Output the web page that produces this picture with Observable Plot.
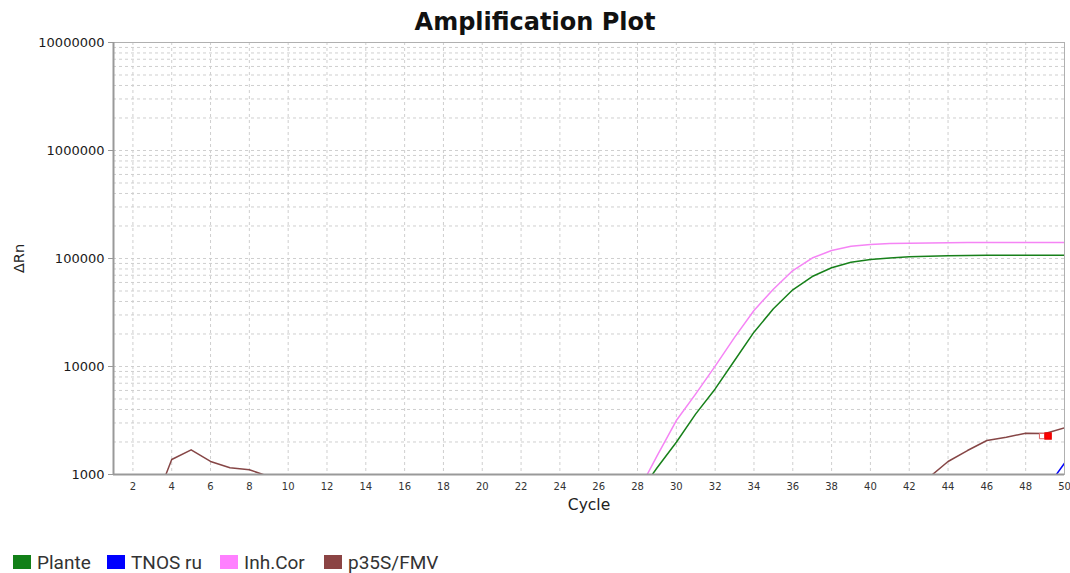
<!DOCTYPE html>
<html>
<head>
<meta charset="utf-8">
<script src="https://cdn.jsdelivr.net/npm/d3@7"></script>
<script src="https://cdn.jsdelivr.net/npm/@observablehq/plot@0.6"></script>
<style>
  html, body { margin: 0; padding: 0; background: #fff; }
  #wrap { width: 1070px; height: 573px; position: relative; overflow: hidden; font-family: "DejaVu Sans", sans-serif; }
  #title { height: 25px; padding-top: 9px; line-height: 26px; text-align: center; font-family: "DejaVu Sans", sans-serif; font-weight: bold; font-size: 24px; color: #111; white-space: nowrap; }
  #legend { display: flex; align-items: center; margin-top: 27px; padding-left: 13px; height: 22px; font-family: Roboto, "Noto Sans", sans-serif; font-size: 19px; color: #333; }
  .item { display: flex; align-items: center; flex: none; }
  .sw { width: 18px; height: 14px; margin-right: 6px; flex: none; }
  .lab { white-space: nowrap; display: inline-block; }
</style>
</head>
<body>
<div id="wrap">
  <div id="title">Amplification Plot</div>
  <div id="chart"></div>
  <div id="legend"></div>
</div>
<script>
// ---- data ----
const cycles = [1,2,3,4,5,6,7,8,9,10,11,12,13,14,15,16,17,18,19,20,21,22,23,24,25,26,27,28,29,30,31,32,33,34,35,36,37,38,39,40,41,42,43,44,45,46,47,48,49,50];

const plante = [100,100,100,100,100,100,100,100,100,100,100,100,100,100,100,100,100,100,100,100,100,100,100,100,110,130,200,637,
  1150,1990,3640,6200,11370,20800,34200,51300,68100,82000,92400,97800,101000,103600,105000,106000,106500,107000,107200,107300,107400,107400];

const tnos = [300,300,300,300,300,300,300,300,300,300,300,300,300,300,300,300,300,300,300,300,300,300,300,300,300,300,300,300,
  300,300,300,300,300,300,300,300,300,300,300,300,300,300,300,300,300,300,300,400,716,1273];

const inh = [100,100,100,100,100,100,100,100,100,100,100,100,100,100,100,100,100,100,100,100,100,100,100,100,110,140,250,676,
  1480,3160,5580,10070,18600,33000,52000,77400,101000,118600,130000,135000,137500,138700,139500,140000,140300,140600,140800,141000,140800,140600];

const p35s = [300,350,475,1376,1693,1320,1153,1105,960,700,600,550,500,500,500,500,500,500,500,500,500,500,500,500,500,500,500,500,
  500,500,500,500,500,500,500,500,500,500,500,500,550,600,933,1320,1667,2065,2215,2415,2400,2705];

const seriesNames = ["Plante", "TNOS ru", "Inh.Cor", "p35S/FMV"];
const seriesValues = [plante, tnos, inh, p35s];
const seriesColors = ["#17801a", "#0000ff", "#f584f5", "#864646"];
const legendColors = ["#128018", "#0000ff", "#ff80ff", "#8b4444"];

const xTicks = [2,4,6,8,10,12,14,16,18,20,22,24,26,28,30,32,34,36,38,40,42,44,46,48,50];
const yTicks = [1000, 10000, 100000, 1000000, 10000000];
const gridMultipliers = [1,2,3,4,5,6,7,8,9];

const markerCycle = [49];
const markerValue = [2270];

// ---- build tables ----
const rows = seriesNames.flatMap((name, i) =>
  cycles.map((c, j) => ({ series: name, cycle: c, value: seriesValues[i][j] })));
const gridY = yTicks.slice(0, -1).flatMap(d => gridMultipliers.map(m => d * m)).concat([yTicks[yTicks.length - 1]]);
const markers = markerCycle.map((c, i) => ({ cycle: c, value: markerValue[i] }));

const chart = Plot.plot({
  width: 1070,
  height: 490,
  marginLeft: 113,
  marginRight: 6,
  marginTop: 8,
  marginBottom: 50,
  style: { fontFamily: "'DejaVu Sans', sans-serif", color: "#222", background: "white" },
  x: { domain: [1, 50], axis: null },
  y: { type: "log", domain: [1000, 10000000], axis: null },
  color: { domain: seriesNames, range: seriesColors },
  marks: [
    Plot.ruleY(gridY, { stroke: "#cfcfcf", strokeDasharray: "3,3" }),
    Plot.ruleX(xTicks, { stroke: "#cfcfcf", strokeDasharray: "3,3" }),
    Plot.frame({ stroke: "#b0b0b0" }),
    Plot.line(rows, { x: "cycle", y: "value", z: "series", stroke: "series", strokeWidth: 1.5, clip: true }),
    Plot.ruleX([1], { stroke: "#999", strokeWidth: 2 }),
    Plot.ruleY([1000], { stroke: "#999", strokeWidth: 2 }),
    Plot.dot(markers, { x: "cycle", y: "value", symbol: "square", r: 3, fill: "white", stroke: "#d66", strokeWidth: 1, dx: -3 }),
    Plot.dot(markers, { x: "cycle", y: "value", symbol: "square", r: 3.4, fill: "#f00", stroke: "#e00", dx: 3 }),
    Plot.axisY(yTicks, { tickFormat: d => d3.format("d")(d), fontSize: 13, tickSize: 5, tickPadding: 4, stroke: "#999", fill: "#1a1a1a", label: null }),
    Plot.axisX(xTicks, { tickFormat: d => String(d), fontSize: 10, tickSize: 0, tickPadding: 8, fill: "#333", label: null }),
    Plot.text(["Cycle"], { frameAnchor: "bottom", dy: 35, fontSize: 15.5, fill: "#222" }),
    Plot.text(["ΔRn"], { frameAnchor: "left", textAnchor: "middle", dx: -94, rotate: -90, fontSize: 14.5, fill: "#222" })
  ]
});
document.getElementById("chart").appendChild(chart);

// ---- legend ----
const itemWidths = [94, 113, 104, 130];
const legend = document.getElementById("legend");
seriesNames.forEach((name, i) => {
  const it = document.createElement("div");
  it.className = "item";
  it.style.width = itemWidths[i] + "px";
  const sw = document.createElement("span");
  sw.className = "sw";
  sw.style.background = legendColors[i];
  const lab = document.createElement("span");
  lab.className = "lab";
  lab.textContent = name;
  it.appendChild(sw);
  it.appendChild(lab);
  legend.appendChild(it);
});
</script>
</body>
</html>
